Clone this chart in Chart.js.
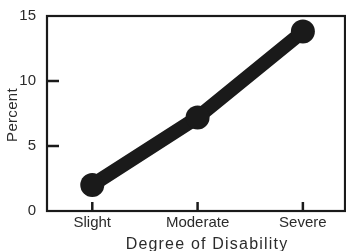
<!DOCTYPE html>
<html>
<head>
    <script src="https://cdn.jsdelivr.net/npm/chart.js"></script>
    <style>
        html, body { margin: 0; padding: 0; background: #fff; }
        .wrap { width: 346px; height: 251px; }
    </style>
</head>
<body>
<div class="wrap"><canvas id="disabilityChart" width="346" height="251"></canvas></div>
<script>
// data
const categories = ['Slight', 'Moderate', 'Severe'];
const percentValues = [2.0, 7.2, 13.8];
const yTicks = [0, 5, 10, 15];
const xTitle = 'Degree of Disability';
const yTitle = 'Percent';

const ink = '#1a1a1a';
const textInk = '#2b2b2b';
const fontFamily = "'Liberation Sans', Arial, Helvetica, sans-serif";

// frame, inward tick marks and axis titles
const framePlugin = {
    id: 'frame',
    afterDraw(chart) {
        const { ctx, chartArea: a, scales } = chart;
        ctx.save();
        ctx.strokeStyle = ink;
        ctx.lineWidth = 2.2;
        ctx.strokeRect(a.left, a.top, a.right - a.left, a.bottom - a.top);
        ctx.lineWidth = 2.5;
        yTicks.slice(1, -1).forEach(v => {
            const y = scales.y.getPixelForValue(v);
            ctx.beginPath();
            ctx.moveTo(a.left, y);
            ctx.lineTo(a.left + 12, y);
            ctx.stroke();
        });
        categories.forEach((c, i) => {
            const x = scales.x.getPixelForValue(i);
            ctx.beginPath();
            ctx.moveTo(x, a.bottom);
            ctx.lineTo(x, a.bottom - 9);
            ctx.stroke();
        });
        ctx.fillStyle = textInk;
        ctx.font = '16px ' + fontFamily;
        ctx.textAlign = 'center';
        ctx.textBaseline = 'alphabetic';
        ctx.letterSpacing = '1.2px';
        ctx.fillText(xTitle, 207, 249);
        ctx.letterSpacing = '0.3px';
        ctx.font = '15px ' + fontFamily;
        ctx.translate(13, 115);
        ctx.rotate(-Math.PI / 2);
        ctx.textBaseline = 'middle';
        ctx.fillText(yTitle, 0, 0);
        ctx.restore();
    }
};

window.onload = () => {
    new Chart(document.getElementById('disabilityChart').getContext('2d'), {
        type: 'line',
        data: {
            datasets: [{
                data: percentValues.map((v, i) => ({ x: i, y: v })),
                borderColor: ink,
                backgroundColor: ink,
                borderWidth: 14,
                borderCapStyle: 'round',
                borderJoinStyle: 'round',
                pointRadius: 12,
                pointHoverRadius: 12,
                pointBorderWidth: 0,
                tension: 0
            }]
        },
        options: {
            responsive: false,
            animation: false,
            layout: { autoPadding: false, padding: { top: 16, right: 1, left: 0, bottom: 0 } },
            plugins: { legend: { display: false }, tooltip: { enabled: false } },
            scales: {
                x: {
                    type: 'linear',
                    min: -0.43,
                    max: 2.4,
                    afterBuildTicks: s => { s.ticks = categories.map((c, i) => ({ value: i })); },
                    afterFit: s => { s.height = 40; s.paddingLeft = 0; s.paddingRight = 0; },
                    grid: { display: false },
                    border: { display: false },
                    ticks: {
                        callback: v => categories[v],
                        color: textInk,
                        font: { size: 15, family: fontFamily },
                        padding: -5,
                        maxRotation: 0,
                        autoSkip: false
                    }
                },
                y: {
                    min: 0,
                    max: 15,
                    afterBuildTicks: s => { s.ticks = yTicks.map(v => ({ value: v })); },
                    afterFit: s => { s.width = 47; s.paddingTop = 0; s.paddingBottom = 0; },
                    grid: { display: false },
                    border: { display: false },
                    ticks: {
                        color: textInk,
                        font: { size: 15, family: fontFamily },
                        padding: 3
                    }
                }
            }
        },
        plugins: [framePlugin]
    });
};
</script>
</body>
</html>
